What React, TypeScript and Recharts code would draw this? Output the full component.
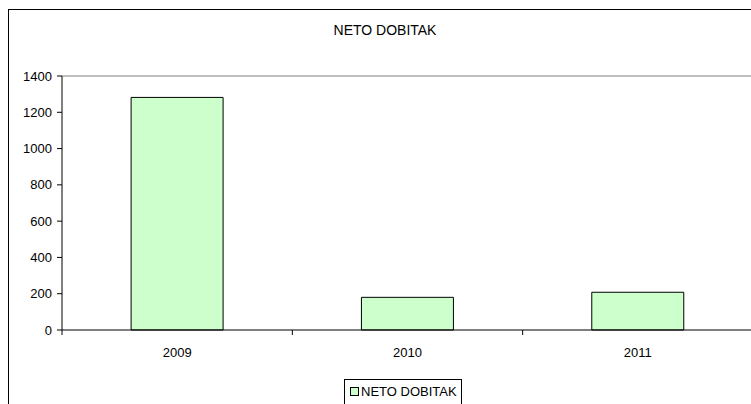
import { BarChart, Bar, XAxis, YAxis, Legend, ReferenceLine } from "recharts";

const years = ["2009", "2010", "2011"];
const netoDobitak = [1282, 180, 208];
const yTicks = [0, 200, 400, 600, 800, 1000, 1200, 1400];

const data = years.map((y, i) => ({ year: y, value: netoDobitak[i] }));

const FONT = '"Liberation Sans", Arial, sans-serif';
const W = 800;
const H = 404;
const M = { top: 76, right: 47, bottom: 44, left: 0 };
const Y_W = 62;
const HALF_BAND = (W - M.left - M.right - Y_W) / years.length / 2;

function YearTick(props: any) {
  const { x, y, payload, index } = props;
  const left = x - HALF_BAND;
  return (
    <g>
      <line x1={left} x2={left} y1={y} y2={y + 5} stroke="#000" />
      {index === years.length - 1 && (
        <line x1={x + HALF_BAND} x2={x + HALF_BAND} y1={y} y2={y + 5} stroke="#000" />
      )}
      <text x={x} y={y + 27} textAnchor="middle" fontSize={13} fontFamily={FONT} fill="#000">
        {payload.value}
      </text>
    </g>
  );
}

function LegendBox() {
  return (
    <div
      style={{
        border: "1px solid #000",
        fontFamily: FONT,
        fontSize: 13,
        lineHeight: "15px",
        color: "#000",
        height: 34,
        paddingLeft: 5,
        paddingTop: 4,
        boxSizing: "border-box",
        whiteSpace: "nowrap",
      }}
    >
      <span
        style={{
          display: "inline-block",
          width: 7,
          height: 7,
          background: "#CCFFCC",
          border: "1px solid #000",
          marginRight: 2,
        }}
      />
      <span>NETO DOBITAK</span>
    </div>
  );
}

export default function App() {
  return (
    <div style={{ position: "fixed", left: 0, top: 0, width: 751, height: 404, overflow: "hidden", background: "#fff" }}>
      <div
        style={{
          position: "absolute",
          left: 8,
          top: 9,
          width: 2000,
          height: 2000,
          borderLeft: "1px solid #000",
          borderTop: "1px solid #000",
        }}
      />
      <div
        style={{
          position: "absolute",
          left: 285,
          top: 22,
          width: 200,
          textAlign: "center",
          fontFamily: FONT,
          fontSize: 14,
          color: "#000",
        }}
      >
        NETO DOBITAK
      </div>
      <div style={{ position: "absolute", left: 0, top: 0 }}>
        <BarChart width={W} height={H} data={data} margin={M} barCategoryGap="30%">
          <XAxis
            dataKey="year"
            axisLine={{ stroke: "#000" }}
            tickLine={false}
            tickSize={0}
            tickMargin={0}
            height={30}
            interval={0}
            tick={<YearTick />}
          />
          <YAxis
            width={Y_W}
            domain={[0, 1400]}
            ticks={yTicks}
            interval={0}
            axisLine={{ stroke: "#000" }}
            tickLine={{ stroke: "#000" }}
            tickSize={5}
            tickMargin={5}
            tick={{ fontSize: 13, fontFamily: FONT, fill: "#000" }}
          />
          <ReferenceLine y={1400} stroke="#808080" />
          <Legend
            layout="horizontal"
            verticalAlign="middle"
            align="center"
            wrapperStyle={{ left: 344, top: 379, width: 118 }}
            content={<LegendBox />}
          />
          <Bar
            dataKey="value"
            name="NETO DOBITAK"
            fill="#CCFFCC"
            stroke="#000"
            strokeWidth={1}
            isAnimationActive={false}
          />
        </BarChart>
      </div>
    </div>
  );
}
